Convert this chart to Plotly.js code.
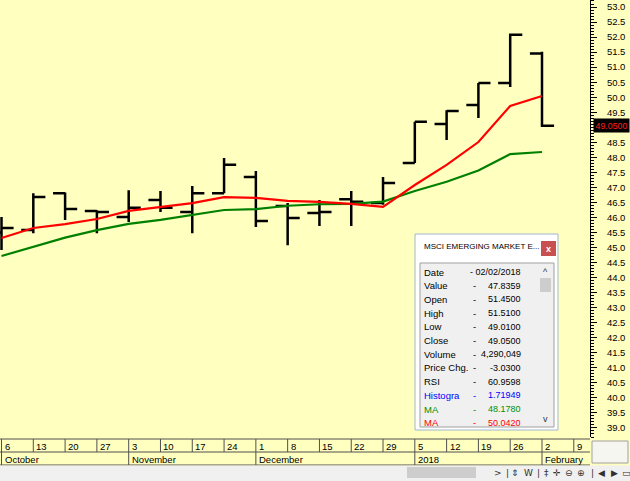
<!DOCTYPE html>
<html>
<head>
<meta charset="utf-8">
<script src="https://cdn.plot.ly/plotly-3.0.1.min.js"></script>
<style>html,body{margin:0;padding:0;background:#FFFFC0;}#chart{width:630px;height:481px;}</style>
</head>
<body>
<div id="chart"></div>
<script>
// ---- data (weekly bars) ----
var dates = ['2017-10-06','2017-10-13','2017-10-20','2017-10-27','2017-11-03','2017-11-10','2017-11-17','2017-11-24','2017-12-01','2017-12-08','2017-12-15','2017-12-22','2017-12-29','2018-01-05','2018-01-12','2018-01-19','2018-01-26','2018-02-02'];
var opens  = [45.50, 45.58, 46.81, 46.22, 46.02, 46.58, 46.18, 46.81, 47.35, 46.38, 46.15, 46.61, 46.48, 47.81, 49.11, 49.74, 50.47, 51.45];
var highs  = [46.02, 46.81, 46.83, 46.24, 46.91, 46.88, 47.05, 47.98, 47.55, 46.48, 46.58, 46.88, 47.35, 49.18, 49.57, 50.47, 52.12, 51.51];
var lows   = [44.92, 45.48, 45.92, 45.48, 45.85, 46.18, 45.48, 46.81, 45.68, 45.08, 45.72, 45.72, 46.42, 47.81, 48.58, 49.31, 50.34, 49.01];
var closes = [45.65, 46.68, 46.28, 46.18, 46.32, 46.32, 46.81, 47.75, 45.88, 45.98, 46.18, 46.52, 47.15, 49.18, 49.54, 50.47, 52.08, 49.05];
var maRed   = [45.32, 45.65, 45.78, 45.95, 46.22, 46.35, 46.48, 46.68, 46.65, 46.55, 46.52, 46.45, 46.35, 47.08, 47.75, 48.51, 49.71, 50.042];
var maGreen = [44.72, 45.03, 45.33, 45.58, 45.79, 45.92, 46.08, 46.25, 46.28, 46.39, 46.44, 46.45, 46.53, 46.88, 47.19, 47.56, 48.11, 48.178];

// price axis ticks (49.0 is hidden under the last-value tag in the original)
var yTickVals   = [39.0, 39.5, 40.0, 40.5, 41.0, 41.5, 42.0, 42.5, 43.0, 43.5, 44.0, 44.5, 45.0, 45.5, 46.0, 46.5, 47.0, 47.5, 48.0, 48.5, 49.0, 49.5, 50.0, 50.5, 51.0, 51.5, 52.0, 52.5, 53.0];
var yTickLabels = ['39.0','39.5','40.0','40.5','41.0','41.5','42.0','42.5','43.0','43.5','44.0','44.5','45.0','45.5','46.0','46.5','47.0','47.5','48.0','48.5','','49.5','50.0','50.5','51.0','51.5','52.0','52.5','53.0'];

// date strip
var weekDates  = ['2017-10-06','2017-10-13','2017-10-20','2017-10-27','2017-11-03','2017-11-10','2017-11-17','2017-11-24','2017-12-01','2017-12-08','2017-12-15','2017-12-22','2017-12-29','2018-01-05','2018-01-12','2018-01-19','2018-01-26','2018-02-02','2018-02-09'];
var weekLabels = ['6','13','20','27','3','10','17','24','1','8','15','22','29','5','12','19','26','2','9'];
var monthDates  = ['2017-10-06','2017-11-03','2017-12-01','2018-01-05','2018-02-02'];
var monthLabels = ['October','November','December','2018','February'];

// info window
var infoTitle  = 'MSCI EMERGING MARKET E...';
var infoLabels = ['Date','Value','Open','High','Low','Close','Volume','Price Chg.','RSI','Histogra','MA','MA'];
var infoValues = ['02/02/2018','47.8359','51.4500','51.5100','49.0100','49.0500','4,290,049','-3.0300','60.9598','1.71949','48.1780','50.0420'];
var infoColors = ['#000','#000','#000','#000','#000','#000','#000','#000','#000','#0000ff','#009000','#ff0000'];

// toolbar glyphs
var toolGlyphs = ['>','|','⇕','W','|','‡','✛','⊖','⊕','|','◀','▶','▭'];
var toolPos    = [498,507,515,528,538,546,557,569,581,592,601,614,626];

// ---- layout helpers (pixel -> paper) ----
var PW = 590, PH = 437;
function px(p){ return p / PW; }
function py(p){ return 1 - p / PH; }
var FONT = 'Liberation Sans, Arial, sans-serif';
var BG = '#FFFFC0';

var traces = [
  {type:'scatter', mode:'lines', x:dates, y:maGreen, line:{color:'#008000', width:2.2}, hoverinfo:'skip'},
  {type:'scatter', mode:'lines', x:dates, y:maRed, line:{color:'#ff0000', width:2.2}, hoverinfo:'skip'},
  {type:'ohlc', x:dates, open:opens, high:highs, low:lows, close:closes,
   increasing:{line:{color:'#000', width:2.5}}, decreasing:{line:{color:'#000', width:2.5}},
   tickwidth:0.38, hoverinfo:'skip'}
];

var shapes = [];
var annotations = [];

// date strip
[439, 452, 465].forEach(function(p){
  shapes.push({type:'line', xref:'paper', yref:'paper', x0:0, x1:1, y0:py(p), y1:py(p), line:{color:'#505050', width:1}});
});
weekDates.forEach(function(d, i){
  shapes.push({type:'line', xref:'x', yref:'paper', x0:d, x1:d, y0:py(439), y1:py(452), line:{color:'#505050', width:1}});
  annotations.push({xref:'x', yref:'paper', x:d, y:py(446), xanchor:'left', yanchor:'middle', xshift:1, showarrow:false,
    text:weekLabels[i], font:{family:FONT, size:9.5, color:'#000'}});
});
monthDates.forEach(function(d, i){
  shapes.push({type:'line', xref:'x', yref:'paper', x0:d, x1:d, y0:py(452), y1:py(465), line:{color:'#505050', width:1}});
  annotations.push({xref:'x', yref:'paper', x:d, y:py(459), xanchor:'left', yanchor:'middle', xshift:1, showarrow:false,
    text:monthLabels[i], font:{family:FONT, size:9.5, color:'#000'}});
});
// toolbar
shapes.push({type:'rect', xref:'paper', yref:'paper', x0:0, x1:px(630), y0:py(465.5), y1:py(481), fillcolor:'#f0f0f0', line:{width:0}, layer:'above'});
shapes.push({type:'rect', xref:'paper', yref:'paper', x0:px(407), x1:px(476), y0:py(467), y1:py(478), fillcolor:'#cdcdcd', line:{width:0}, layer:'above'});
shapes.push({type:'rect', xref:'paper', yref:'paper', x0:px(592), x1:px(628), y0:py(441), y1:py(463), fillcolor:'#f6f6f0', line:{color:'#a0a0a0', width:1}});
toolGlyphs.forEach(function(g, i){
  annotations.push({xref:'paper', yref:'paper', x:px(toolPos[i]), y:py(473), xanchor:'center', yanchor:'middle', showarrow:false,
    text:g, font:{family:'DejaVu Sans, sans-serif', size:9, color:'#303030'}});
});

// last value tag
annotations.push({xref:'paper', yref:'y', x:px(611), y:closes[closes.length-1], xanchor:'center', yanchor:'middle', showarrow:false,
  text:closes[closes.length-1].toFixed(4), bgcolor:'#000', width:35, height:13, borderpad:0,
  font:{family:FONT, size:8.8, color:'#ff2020'}});

// info window
shapes.push({type:'rect', xref:'paper', yref:'paper', x0:px(415), x1:px(558), y0:py(234), y1:py(430), fillcolor:'#ffffff', line:{color:'#9fb6cd', width:1}, layer:'above'});
shapes.push({type:'rect', xref:'paper', yref:'paper', x0:px(420), x1:px(554), y0:py(263), y1:py(427), fillcolor:'#f0f0f0', line:{color:'#a0a0a0', width:1}, layer:'above'});
shapes.push({type:'rect', xref:'paper', yref:'paper', x0:px(538), x1:px(553), y0:py(264), y1:py(426), fillcolor:'#f0f0f0', line:{width:0}, layer:'above'});
shapes.push({type:'rect', xref:'paper', yref:'paper', x0:px(540), x1:px(551), y0:py(278), y1:py(292), fillcolor:'#cdcdcd', line:{width:0}, layer:'above'});
shapes.push({type:'rect', xref:'paper', yref:'paper', x0:px(541), x1:px(556), y0:py(241), y1:py(256), fillcolor:'#c75050', line:{width:0}, layer:'above'});
annotations.push({xref:'paper', yref:'paper', x:px(548.5), y:py(248.5), xanchor:'center', yanchor:'middle', showarrow:false,
  text:'<b>x</b>', font:{family:FONT, size:9, color:'#fff'}});
annotations.push({xref:'paper', yref:'paper', x:px(422), y:py(247), xanchor:'left', yanchor:'middle', showarrow:false,
  text:infoTitle, font:{family:FONT, size:8, color:'#000'}});
annotations.push({xref:'paper', yref:'paper', x:px(545.5), y:py(272), xanchor:'center', yanchor:'middle', showarrow:false,
  text:'^', font:{family:FONT, size:9, color:'#333'}});
annotations.push({xref:'paper', yref:'paper', x:px(545.5), y:py(419), xanchor:'center', yanchor:'middle', showarrow:false,
  text:'v', font:{family:FONT, size:9, color:'#333'}});
infoLabels.forEach(function(lbl, i){
  var yy = py(272 + i * 13.7);
  annotations.push({xref:'paper', yref:'paper', x:px(422), y:yy, xanchor:'left', yanchor:'middle', showarrow:false,
    text:lbl, font:{family:FONT, size:9.5, color:infoColors[i]}});
  if (i === 0) {
    annotations.push({xref:'paper', yref:'paper', x:px(523), y:yy, xanchor:'right', yanchor:'middle', showarrow:false,
      text:'- ' + infoValues[i], font:{family:FONT, size:9, color:infoColors[i]}});
  } else {
    annotations.push({xref:'paper', yref:'paper', x:px(474), y:yy, xanchor:'center', yanchor:'middle', showarrow:false,
      text:'-', font:{family:FONT, size:9.5, color:infoColors[i]}});
    annotations.push({xref:'paper', yref:'paper', x:px(523), y:yy, xanchor:'right', yanchor:'middle', showarrow:false,
      text:infoValues[i], font:{family:FONT, size:9, color:infoColors[i]}});
  }
});

var layout = {
  width:630, height:481,
  margin:{l:0, r:40, t:0, b:44, pad:0},
  paper_bgcolor:BG, plot_bgcolor:BG,
  showlegend:false,
  xaxis:{type:'date', range:['2017-10-05 16:00:00','2018-02-12 13:40:00'], showgrid:false, zeroline:false,
    showline:false, showticklabels:false, ticks:'', rangeslider:{visible:false}, fixedrange:true},
  yaxis:{side:'right', range:[38.70, 53.233], tickmode:'array', tickvals:yTickVals, ticktext:yTickLabels,
    showgrid:false, zeroline:false, showline:true, linecolor:'#000', linewidth:1,
    ticks:'outside', ticklen:6, tickcolor:'#000', ticklabelstandoff:8,
    minor:{tick0:0, dtick:0.1, ticks:'outside', ticklen:3, tickcolor:'#000', showgrid:false},
    tickfont:{family:FONT, size:9.5, color:'#000'}, fixedrange:true},
  shapes:shapes,
  annotations:annotations
};

Plotly.newPlot('chart', traces, layout, {staticPlot:true, displayModeBar:false});
</script>
</body>
</html>
